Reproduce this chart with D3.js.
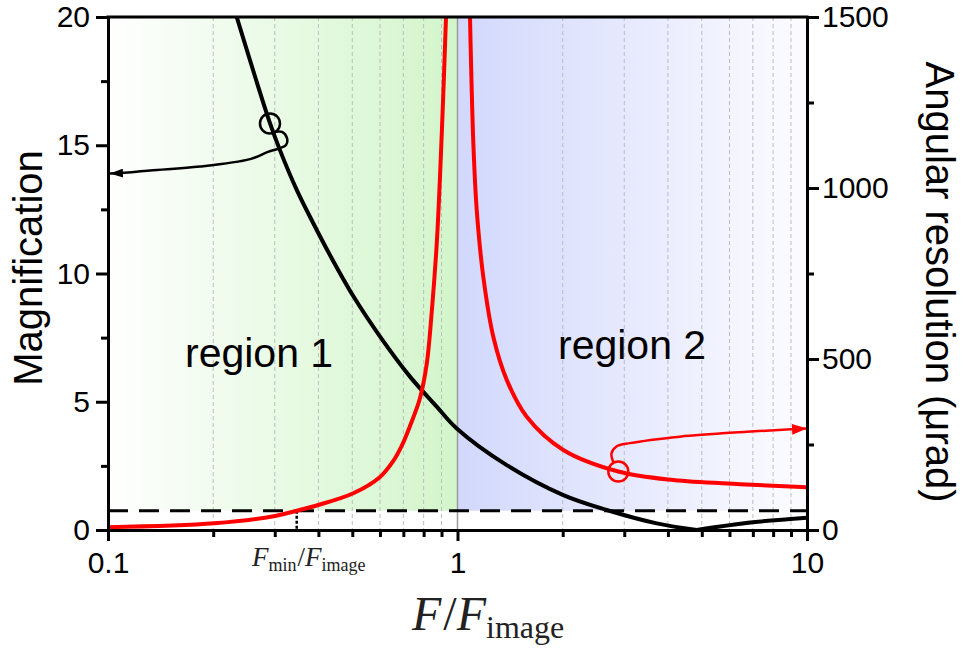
<html>
<script src="https://d3js.org/d3.v7.min.js"></script>
<body style="margin:0;background:#fff">
<svg width="963" height="650"></svg>
<script>
// x axis: F / F_image (log)
var xMajor = [0.1, 1, 10];
var xMinor = [0.2, 0.3, 0.4, 0.5, 0.6, 0.7, 0.8, 0.9, 2, 3, 4, 5, 6, 7, 8, 9];
// left axis: magnification
var magMajor = [0, 5, 10, 15, 20];
var magMinor = [2.5, 7.5, 12.5, 17.5];
// right axis: angular resolution (urad)
var resMajor = [0, 500, 1000, 1500];
var resMinor = [250, 750, 1250];

// magnification curve (black)
var magF   = [0.2335, 0.2907, 0.3104, 0.3467, 0.3867, 0.4316, 0.5032, 0.6004, 0.7312, 0.872, 0.995, 1.383, 2.008, 2.673, 3.715, 4.835, 7.0, 10];
var magVal = [20.0,   15.86,  14.81,  13.26,  11.96,  10.72,  9.12,   7.54,   5.98,   4.81,  3.96,  2.53,  1.36,  0.78,  0.26,  0.0,   0.30, 0.48];

// angular resolution (red), two branches either side of F = F_image
var resLeftF    = [0.1, 0.2014, 0.3005, 0.3467, 0.3997, 0.5032, 0.6004, 0.6552, 0.6924, 0.7312, 0.7812, 0.8163, 0.8435, 0.872, 0.8911, 0.9108, 0.9271];
var resLeftVal  = [8,   19.6,   40.9,   56.4,   73.1,   107.3,  155,    202,    246,    304,    386,    485,    635,    836,   1033,   1277,   1500];
var resRightF   = [1.0859, 1.110, 1.135, 1.185, 1.266, 1.383, 1.578, 2.008, 2.885, 4.145, 6.43, 10];
var resRightVal = [1500,   1131,  936,   741,   565,   439,   331,   234,   171,   146,   134,  125];

// limits
var threshold = 0.75;   // magnification level of dashed line
var fMin = 0.3467;      // F_min / F_image

// callouts (data coords)
var magMarkF = 0.2907, magMarkVal = 15.85;
var magArrowF   = [0.3019, 0.3147, 0.3252, 0.3231, 0.3106, 0.2870, 0.2549, 0.1833, 0.1319, 0.1097, 0.1013];
var magArrowVal = [15.53,  15.52,  15.28,  15.01,  14.89,  14.74,  14.46,  14.17,  14.02,  13.92,  13.90];
var resMarkF = 2.885, resMarkVal = 171;
var resArrowF   = [2.80, 2.758, 2.850, 3.116, 4.331, 6.722, 9.24, 10];
var resArrowVal = [195,  224,   244,   254,   273,   287,   295,  297];

var pLeft = 108, pRight = 807, pTop = 17, pBottom = 530;
var sans = "Liberation Sans, Arial, sans-serif";
var serif = "Liberation Serif, DejaVu Serif, serif";

var svg = d3.select("svg");

var x = d3.scaleLog().domain([0.1, 10]).range([pLeft, pRight]);
var yMag = d3.scaleLinear().domain([0, 20]).range([pBottom, pTop]);
var yRes = d3.scaleLinear().domain([0, 1500]).range([pBottom, pTop]);

var defs = svg.append("defs");

var g1 = defs.append("linearGradient").attr("id", "reg1")
    .attr("gradientUnits", "userSpaceOnUse")
    .attr("x1", x(0.1)).attr("x2", x(1)).attr("y1", 0).attr("y2", 0);
g1.append("stop").attr("offset", 0).attr("stop-color", "#ffffff");
g1.append("stop").attr("offset", 1).attr("stop-color", "#d2f5ca");

var g2 = defs.append("linearGradient").attr("id", "reg2")
    .attr("gradientUnits", "userSpaceOnUse")
    .attr("x1", x(1)).attr("x2", x(10)).attr("y1", 0).attr("y2", 0);
g2.append("stop").attr("offset", 0).attr("stop-color", "#d2d8fc");
g2.append("stop").attr("offset", 1).attr("stop-color", "#fcfcff");

defs.append("clipPath").attr("id", "plot")
  .append("rect").attr("x", pLeft).attr("y", pTop).attr("width", pRight - pLeft).attr("height", pBottom - pTop);

function arrowMarker(id, color, len, wid) {
    defs.append("marker").attr("id", id)
        .attr("markerUnits", "userSpaceOnUse")
        .attr("viewBox", "0 0 " + len + " " + wid)
        .attr("refX", len).attr("refY", wid / 2)
        .attr("markerWidth", len).attr("markerHeight", wid)
        .attr("orient", "auto")
      .append("path")
        .attr("d", "M0,0 L" + len + "," + (wid / 2) + " L0," + wid + " Z")
        .attr("fill", color);
}
arrowMarker("ahBlack", "black", 13, 9);
arrowMarker("ahRed", "red", 15, 11);

// shaded regions
svg.append("rect")
    .attr("x", x(0.1)).attr("y", yMag(20))
    .attr("width", x(1) - x(0.1)).attr("height", yMag(threshold) - yMag(20))
    .attr("fill", "url(#reg1)");
svg.append("rect")
    .attr("x", x(1)).attr("y", yMag(20))
    .attr("width", x(10) - x(1)).attr("height", yMag(threshold) - yMag(20))
    .attr("fill", "url(#reg2)");

// grid
svg.append("g").selectAll("line")
    .data(xMinor)
    .enter().append("line")
    .attr("x1", d => x(d)).attr("x2", d => x(d))
    .attr("y1", pTop).attr("y2", pBottom)
    .attr("stroke", "#bdbdbd").attr("stroke-width", 1)
    .attr("stroke-dasharray", "4,3");

svg.append("line")
    .attr("x1", x(1)).attr("x2", x(1))
    .attr("y1", pTop).attr("y2", pBottom)
    .attr("stroke", "#9a9a9a").attr("stroke-width", 1.5);

// threshold line + F_min marker
svg.append("line")
    .attr("x1", pLeft).attr("x2", pRight)
    .attr("y1", yMag(threshold)).attr("y2", yMag(threshold))
    .attr("stroke", "black").attr("stroke-width", 3)
    .attr("stroke-dasharray", "20,11");
svg.append("line")
    .attr("x1", x(fMin)).attr("x2", x(fMin))
    .attr("y1", yMag(threshold)).attr("y2", yMag(0))
    .attr("stroke", "black").attr("stroke-width", 2.5)
    .attr("stroke-dasharray", "3,2");

var plot = svg.append("g").attr("clip-path", "url(#plot)");

// magnification, split at its minimum
var iMin = d3.minIndex(magVal);
var magPts = magF.map((f, i) => [f, magVal[i]]);
var magLine = d3.line().x(d => x(d[0])).y(d => yMag(d[1])).curve(d3.curveCatmullRom.alpha(0.5));
[magPts.slice(0, iMin + 1), magPts.slice(iMin)].forEach(function(seg) {
    plot.append("path").attr("d", magLine(seg))
        .attr("fill", "none").attr("stroke", "black").attr("stroke-width", 4);
});

var resLine = d3.line().x(d => x(d[0])).y(d => yRes(d[1])).curve(d3.curveCatmullRom.alpha(0.5));
[resLeftF.map((f, i) => [f, resLeftVal[i]]), resRightF.map((f, i) => [f, resRightVal[i]])].forEach(function(seg) {
    plot.append("path").attr("d", resLine(seg))
        .attr("fill", "none").attr("stroke", "red").attr("stroke-width", 4);
});

// callouts
var annLine = d3.line().curve(d3.curveCatmullRom.alpha(0.5));
svg.append("circle")
    .attr("cx", x(magMarkF)).attr("cy", yMag(magMarkVal)).attr("r", 10)
    .attr("fill", "none").attr("stroke", "black").attr("stroke-width", 2.5);
svg.append("path")
    .attr("d", annLine(magArrowF.map((f, i) => [x(f), yMag(magArrowVal[i])])))
    .attr("fill", "none").attr("stroke", "black").attr("stroke-width", 2.5)
    .attr("marker-end", "url(#ahBlack)");

svg.append("circle")
    .attr("cx", x(resMarkF)).attr("cy", yRes(resMarkVal)).attr("r", 10)
    .attr("fill", "none").attr("stroke", "red").attr("stroke-width", 2.5);
svg.append("path")
    .attr("d", annLine(resArrowF.map((f, i) => [x(f), yRes(resArrowVal[i])])))
    .attr("fill", "none").attr("stroke", "red").attr("stroke-width", 2.5)
    .attr("marker-end", "url(#ahRed)");

// region labels
svg.append("text").attr("x", 185).attr("y", 367).text("region 1")
    .attr("font-family", sans).attr("font-size", 41);
svg.append("text").attr("x", 558).attr("y", 359).text("region 2")
    .attr("font-family", sans).attr("font-size", 41);

// axes
function styleAxis(sel) {
    sel.selectAll("path.domain").attr("stroke-width", 3);
    sel.selectAll(".tick line").attr("stroke-width", 3);
    sel.selectAll("text").attr("font-family", sans)
        .attr("font-size", 30).attr("fill", "black");
}

svg.append("g").attr("transform", "translate(0," + pBottom + ")")
    .call(d3.axisBottom(x).tickValues(xMajor).tickSize(11).tickSizeOuter(0)
        .tickPadding(11).tickFormat(d3.format("~g")))
    .call(styleAxis);
svg.append("g").attr("transform", "translate(0," + pBottom + ")")
    .call(d3.axisBottom(x).tickValues(xMinor).tickSize(7).tickSizeOuter(0).tickFormat(""))
    .call(styleAxis);

svg.append("g").attr("transform", "translate(" + pLeft + ",0)")
    .call(d3.axisLeft(yMag).tickValues(magMajor).tickSize(12).tickSizeOuter(0).tickPadding(6))
    .call(styleAxis);
svg.append("g").attr("transform", "translate(" + pLeft + ",0)")
    .call(d3.axisLeft(yMag).tickValues(magMinor).tickSize(7).tickSizeOuter(0).tickFormat(""))
    .call(styleAxis);

svg.append("g").attr("transform", "translate(" + pRight + ",0)")
    .call(d3.axisRight(yRes).tickValues(resMajor).tickSize(12).tickSizeOuter(0).tickPadding(3)
        .tickFormat(d3.format("d")))
    .call(styleAxis);
svg.append("g").attr("transform", "translate(" + pRight + ",0)")
    .call(d3.axisRight(yRes).tickValues(resMinor).tickSize(7).tickSizeOuter(0).tickFormat(""))
    .call(styleAxis);

svg.append("line")
    .attr("x1", pLeft - 1.5).attr("x2", pRight + 1.5)
    .attr("y1", pTop).attr("y2", pTop)
    .attr("stroke", "black").attr("stroke-width", 3);

// axis titles
svg.append("text")
    .attr("transform", "translate(42,268) rotate(-90)")
    .attr("text-anchor", "middle")
    .attr("font-family", sans).attr("font-size", 40)
    .text("Magnification");
svg.append("text")
    .attr("transform", "translate(926,282) rotate(90)")
    .attr("text-anchor", "middle")
    .attr("font-family", sans).attr("font-size", 40)
    .text("Angular resolution (μrad)");

// F_min / F_image label
var fl = svg.append("text").attr("x", 252).attr("y", 566)
    .attr("font-family", serif).attr("font-size", 27).attr("fill", "#222");
fl.append("tspan").attr("font-style", "italic").text("F");
fl.append("tspan").attr("font-size", 18).attr("dy", 5).text("min");
fl.append("tspan").attr("dy", -5).attr("dx", 1).text("/");
fl.append("tspan").attr("font-style", "italic").text("F");
fl.append("tspan").attr("font-size", 18).attr("dy", 5).text("image");

// x title
var xt = svg.append("text").attr("x", 412).attr("y", 630)
    .attr("font-family", serif).attr("font-size", 48).attr("fill", "#222");
xt.append("tspan").attr("font-style", "italic").text("F");
xt.append("tspan").attr("dx", 2).text("/");
xt.append("tspan").attr("font-style", "italic").text("F");
xt.append("tspan").attr("font-size", 32).attr("dy", 8).text("image");
</script>
</body>
</html>
